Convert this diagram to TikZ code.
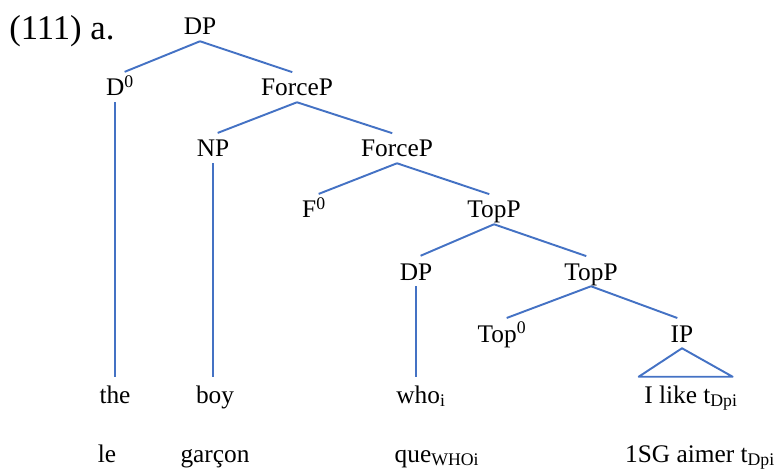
\documentclass[tikz,border=0pt]{standalone}
\usepackage{fontspec}
\setmainfont{Liberation Serif}
\usepackage{xcolor}
\usepackage{tikz}
\definecolor{treeblue}{RGB}{68,114,196}
\tikzset{
  lbl/.style={anchor=base, inner xsep=0pt, inner ysep=1.5pt, text height=15pt, text depth=3pt,
              font=\fontsize{19}{22}\selectfont},
  exlbl/.style={anchor=base west, inner sep=0pt, font=\fontsize{26}{29}\selectfont},
  br/.style={draw=treeblue, line width=1.45pt, shorten >=3.75pt},
  stem/.style={draw=treeblue, line width=1.45pt, shorten >=3pt},
}
\begin{document}
\begin{tikzpicture}[x=0.75pt, y=-0.75pt]
  \useasboundingbox (0,0) rectangle (784,470);
  \node[exlbl] (ex)      at (9,40)    {(111) a.};
  \node[lbl]   (dp)      at (200,35)  {DP};
  \node[lbl]   (d0)      at (120,96)  {D\textsuperscript{0}};
  \node[lbl]   (forcep)  at (297,96)  {ForceP};
  \node[lbl]   (np)      at (213,157) {NP};
  \node[lbl]   (forcepb) at (397,157) {ForceP};
  \node[lbl]   (f0)      at (314,218) {F\textsuperscript{0}};
  \node[lbl]   (topp)    at (494,218) {TopP};
  \node[lbl]   (dpb)     at (416,280) {DP};
  \node[lbl]   (toppb)   at (591,280) {TopP};
  \node[lbl]   (top0)    at (502,342) {Top\textsuperscript{0}};
  \node[lbl]   (ip)      at (682,342) {IP};
  \node[lbl]   (the)     at (115,403) {the};
  \node[lbl]   (boy)     at (215,403) {boy};
  \node[lbl]   (who)     at (421,403) {who\textsubscript{i}};
  \node[lbl]   (ilike)   at (691,403) {I like t\textsubscript{Dpi}};
  \node[lbl]   (le)      at (107,462) {le};
  \node[lbl]   (garcon)  at (215,462) {garçon};
  \node[lbl]   (que)     at (437,462) {que\textsubscript{WHOi}};
  \node[lbl]   (aimer)   at (700,462) {1SG aimer t\textsubscript{Dpi}};
  \draw[br] (dp.south) -- (d0.north);
  \draw[br] (dp.south) -- (forcep.north);
  \draw[br] (forcep.south) -- (np.north);
  \draw[br] (forcep.south) -- (forcepb.north);
  \draw[br] (forcepb.south) -- (f0.north);
  \draw[br] (forcepb.south) -- (topp.north);
  \draw[br] (topp.south) -- (dpb.north);
  \draw[br] (topp.south) -- (toppb.north);
  \draw[br] (toppb.south) -- (top0.north);
  \draw[br] (toppb.south) -- (ip.north);
  \draw[stem] (d0.south -| the.north) -- (the.north);
  \draw[stem] (np.south) -- (np.south |- boy.north);
  \draw[stem] (dpb.south) -- (dpb.south |- who.north);
  \draw[draw=treeblue, line width=1.45pt, line join=round]
    (ip.south) -- ([xshift=-4pt, yshift=3pt]ilike.north west)
    -- ([xshift=-4pt, yshift=3pt]ilike.north east) -- cycle;
\end{tikzpicture}
\end{document}
